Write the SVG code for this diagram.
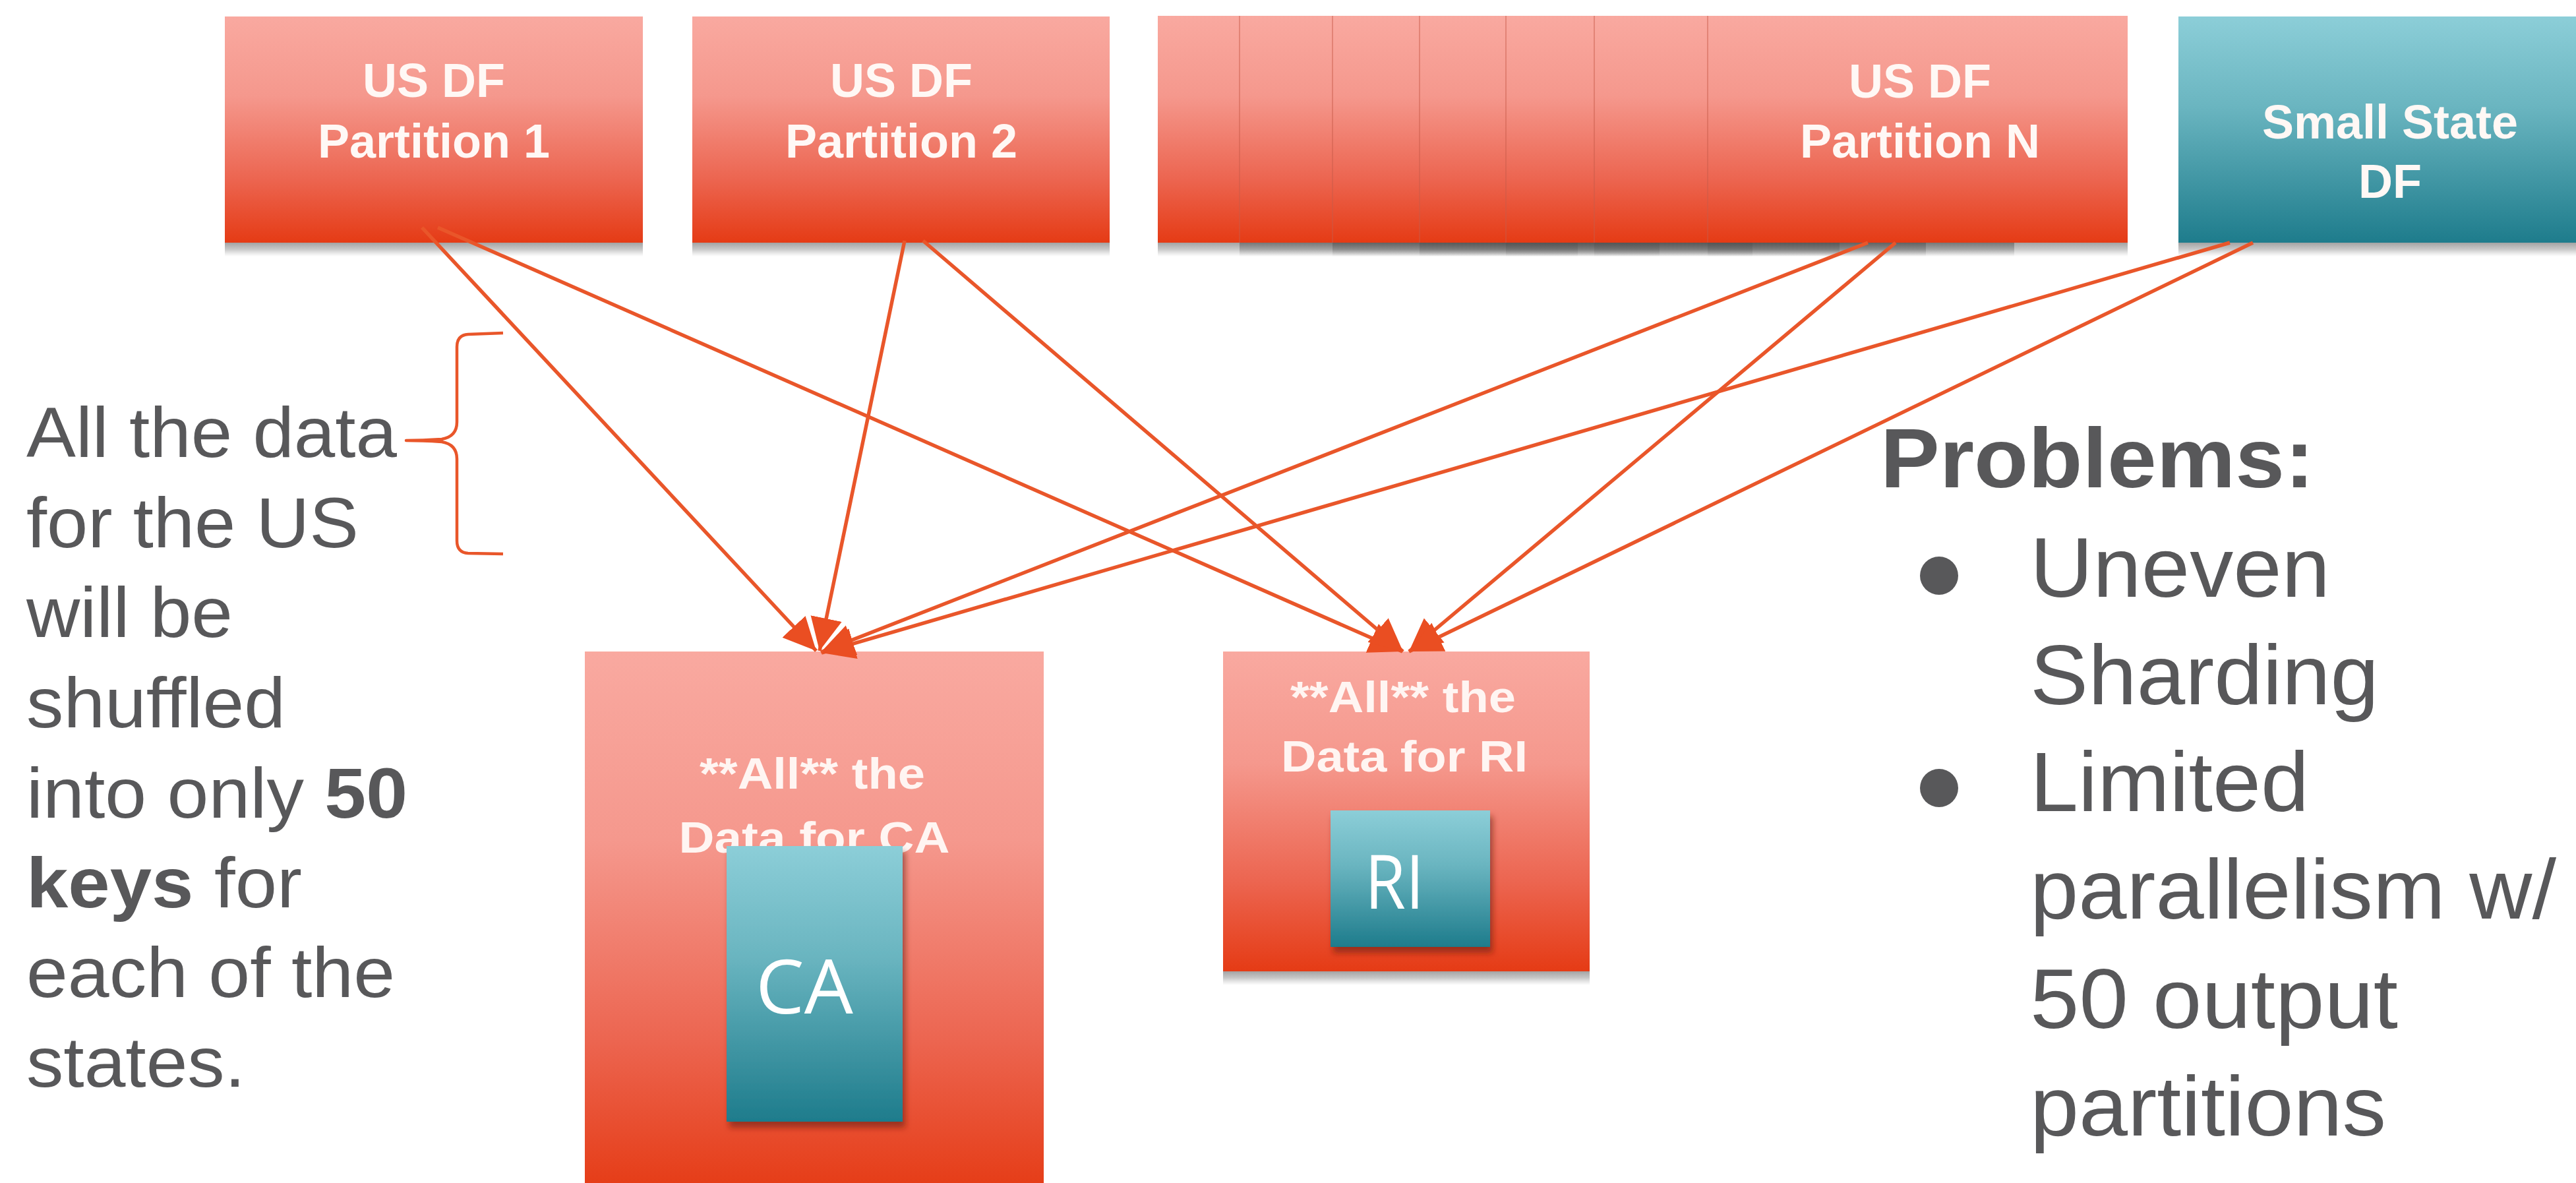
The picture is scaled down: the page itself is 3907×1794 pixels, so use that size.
<svg xmlns="http://www.w3.org/2000/svg" width="3907" height="1794" viewBox="0 0 3907 1794">
<defs>
<linearGradient id="red" x1="0" y1="0" x2="0" y2="1">
<stop offset="0" stop-color="#F9A9A0"/>
<stop offset="0.35" stop-color="#F5988D"/>
<stop offset="0.72" stop-color="#EC6550"/>
<stop offset="1" stop-color="#E53B15"/>
</linearGradient>
<linearGradient id="teal" x1="0" y1="0" x2="0" y2="1">
<stop offset="0" stop-color="#8CCED8"/>
<stop offset="0.4" stop-color="#6AB5C0"/>
<stop offset="1" stop-color="#1E7C8C"/>
</linearGradient>
<linearGradient id="shadow" x1="0" y1="0" x2="0" y2="1">
<stop offset="0" stop-color="#505050" stop-opacity="0.55"/>
<stop offset="0.5" stop-color="#606060" stop-opacity="0.35"/>
<stop offset="1" stop-color="#808080" stop-opacity="0"/>
</linearGradient>
<filter id="innerShadow" x="-20%" y="-20%" width="140%" height="140%">
<feDropShadow dx="4" dy="9" stdDeviation="5" flood-color="#6A1A08" flood-opacity="0.6"/>
</filter>
<marker id="arrow" markerUnits="userSpaceOnUse" markerWidth="54" markerHeight="54" viewBox="0 0 54 54" refX="50" refY="27" orient="auto">
<path d="M0 3 L50 27 L0 51 Z" fill="#EA4E22"/>
</marker>
</defs>
<style>
.box{fill:url(#red)}
.tealbox{fill:url(#teal)}
.shd{fill:url(#shadow)}
.edge{stroke:#C85A4A;stroke-opacity:0.45;stroke-width:2}
.lbl{font-family:"Liberation Sans",Arial,sans-serif;font-weight:bold;font-size:72px;fill:#FFF8F5;text-anchor:middle}
.lbl2{font-family:"Liberation Sans",Arial,sans-serif;font-weight:bold;font-size:66px;fill:#FFF5F2;text-anchor:middle}
.st{font-family:"Open Sans","Liberation Sans",sans-serif;font-size:114px;fill:#FFFFFF;text-anchor:middle}
.body{font-family:"Liberation Sans",Arial,sans-serif;font-size:108px;fill:#58585A}
.body2{font-family:"Liberation Sans",Arial,sans-serif;font-size:128px;fill:#58585A}
.b{font-weight:bold}
.conn{stroke:#E9562A;stroke-width:5.5;fill:none;marker-end:url(#arrow)}
.brace{stroke:#E9562A;stroke-width:4.5;fill:none;stroke-linejoin:round}
</style>
<rect width="3907" height="1794" fill="#FFFFFF"/>

<g id="node-p1">
<rect class="shd" x="341" y="367" width="634" height="22"/>
<rect class="box" x="341" y="25" width="634" height="343"/>
<text class="lbl" x="658" y="147">US DF</text>
<text class="lbl" x="658" y="239">Partition 1</text>
</g>

<g id="node-p2">
<rect class="shd" x="1050" y="367" width="633" height="22"/>
<rect class="box" x="1050" y="25" width="633" height="343"/>
<text class="lbl" x="1367" y="147">US DF</text>
<text class="lbl" x="1367" y="239">Partition 2</text>
</g>

<g id="node-pn">
<rect class="shd" x="1756" y="367" width="637" height="22"/>
<rect class="shd" x="1880" y="367" width="637" height="22"/>
<rect class="shd" x="2021" y="367" width="637" height="22"/>
<rect class="shd" x="2153" y="367" width="637" height="22"/>
<rect class="shd" x="2284" y="367" width="637" height="22"/>
<rect class="shd" x="2418" y="367" width="637" height="22"/>
<rect class="shd" x="2590" y="367" width="637" height="22"/>
<rect class="box" x="1756" y="24" width="637" height="344"/>
<rect class="box" x="1880" y="24" width="637" height="344"/>
<line class="edge" x1="1880" y1="24" x2="1880" y2="368"/>
<rect class="box" x="2021" y="24" width="637" height="344"/>
<line class="edge" x1="2021" y1="24" x2="2021" y2="368"/>
<rect class="box" x="2153" y="24" width="637" height="344"/>
<line class="edge" x1="2153" y1="24" x2="2153" y2="368"/>
<rect class="box" x="2284" y="24" width="637" height="344"/>
<line class="edge" x1="2284" y1="24" x2="2284" y2="368"/>
<rect class="box" x="2418" y="24" width="637" height="344"/>
<line class="edge" x1="2418" y1="24" x2="2418" y2="368"/>
<rect class="box" x="2590" y="24" width="637" height="344"/>
<line class="edge" x1="2590" y1="24" x2="2590" y2="368"/>
<text class="lbl" x="2912" y="148">US DF</text>
<text class="lbl" x="2912" y="239">Partition N</text>
</g>

<g id="node-small-state">
<rect class="shd" x="3304" y="367" width="640" height="22"/>
<rect class="tealbox" x="3304" y="25" width="640" height="343"/>
<text class="lbl" x="3625" y="210">Small State</text>
<text class="lbl" x="3625" y="300">DF</text>
</g>

<g id="node-ca">
<rect class="box" x="887" y="988" width="696" height="820"/>
<text class="lbl2" x="1232" y="1196" textLength="342" lengthAdjust="spacingAndGlyphs">**All** the</text>
<text class="lbl2" x="1235" y="1293" textLength="411" lengthAdjust="spacingAndGlyphs">Data for CA</text>
<rect class="tealbox" x="1102" y="1283" width="267" height="418" filter="url(#innerShadow)"/>
<text class="st" x="1220" y="1537" textLength="148" lengthAdjust="spacingAndGlyphs">CA</text>
</g>

<g id="node-ri">
<rect class="shd" x="1855" y="1472" width="556" height="22"/>
<rect class="box" x="1855" y="988" width="556" height="485"/>
<text class="lbl2" x="2128" y="1080" textLength="342" lengthAdjust="spacingAndGlyphs">**All** the</text>
<text class="lbl2" x="2130" y="1170" textLength="374" lengthAdjust="spacingAndGlyphs">Data for RI</text>
<rect class="tealbox" x="2018" y="1229" width="242" height="207" filter="url(#innerShadow)"/>
<text class="st" x="2115" y="1378" textLength="90" lengthAdjust="spacingAndGlyphs">RI</text>
</g>

<g id="note-left">
<path class="brace" d="M763 505 L710 507 Q693 508 693 526 L693 640 Q693 662 670 666 Q640 668 616 668 Q640 668 670 670 Q693 674 693 696 L693 820 Q693 838 710 839 L763 840"/>
<text class="body" x="40" y="693" textLength="562" lengthAdjust="spacingAndGlyphs">All the data</text>
<text class="body" x="40" y="830" textLength="504" lengthAdjust="spacingAndGlyphs">for the US</text>
<text class="body" x="40" y="966" textLength="313" lengthAdjust="spacingAndGlyphs">will be</text>
<text class="body" x="40" y="1103" textLength="393" lengthAdjust="spacingAndGlyphs">shuffled</text>
<text class="body" x="40" y="1240" textLength="578" lengthAdjust="spacingAndGlyphs">into only <tspan class="b">50</tspan></text>
<text class="body" x="40" y="1376" textLength="418" lengthAdjust="spacingAndGlyphs"><tspan class="b">keys</tspan> for</text>
<text class="body" x="40" y="1512" textLength="559" lengthAdjust="spacingAndGlyphs">each of the</text>
<text class="body" x="40" y="1648" textLength="332" lengthAdjust="spacingAndGlyphs">states.</text>
</g>

<g id="note-problems">
<text class="body2 b" x="2852" y="739" textLength="658" lengthAdjust="spacingAndGlyphs">Problems:</text>
<circle cx="2941" cy="873" r="29" fill="#58585A"/>
<text class="body2" x="3079" y="905" textLength="455" lengthAdjust="spacingAndGlyphs">Uneven</text>
<text class="body2" x="3079" y="1068" textLength="529" lengthAdjust="spacingAndGlyphs">Sharding</text>
<circle cx="2941" cy="1195" r="29" fill="#58585A"/>
<text class="body2" x="3079" y="1230" textLength="423" lengthAdjust="spacingAndGlyphs">Limited</text>
<text class="body2" x="3079" y="1393" textLength="798" lengthAdjust="spacingAndGlyphs">parallelism w/</text>
<text class="body2" x="3079" y="1559" textLength="558" lengthAdjust="spacingAndGlyphs">50 output</text>
<text class="body2" x="3079" y="1722" textLength="540" lengthAdjust="spacingAndGlyphs">partitions</text>
</g>

<g id="connectors">
<line class="conn" x1="640" y1="345" x2="1238" y2="987"/>
<line class="conn" x1="664" y1="345" x2="2127" y2="988"/>
<line class="conn" x1="1372" y1="365" x2="1243" y2="987"/>
<line class="conn" x1="1400" y1="365" x2="2128" y2="988"/>
<line class="conn" x1="2833" y1="368" x2="1245" y2="989"/>
<line class="conn" x1="2875" y1="368" x2="2137" y2="988"/>
<line class="conn" x1="3382" y1="368" x2="1246" y2="990"/>
<line class="conn" x1="3417" y1="368" x2="2137" y2="988"/>
</g>
</svg>
